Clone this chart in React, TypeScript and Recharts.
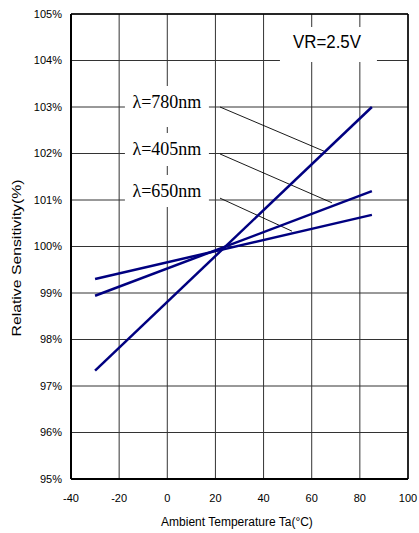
import React from 'react';
import { LineChart, Line, XAxis, YAxis, CartesianGrid, ReferenceLine, ReferenceArea, Label } from 'recharts';

// temperature points of each (straight) curve
const temps = [-30, 85];
const sens780 = [97.33, 103.0];
const sens405 = [98.94, 101.19];
const sens650 = [99.3, 100.68];

const xTicks = [-40, -20, 0, 20, 40, 60, 80, 100];
const yTicks = [95, 96, 97, 98, 99, 100, 101, 102, 103, 104, 105];

// label boxes: [name, x1, x2, y1, y2]
const labelBoxes: [string, number, number, number, number][] = [
    ['λ=780nm', -17.6, 17.3, 102.57, 103.45],
    ['λ=405nm', -17.6, 17.3, 101.73, 102.44],
    ['λ=650nm', -17.6, 17.3, 100.85, 101.54],
];

// leader lines from label to curve
const leaders = [
    [{ x: 21.9, y: 103.0 }, { x: 65.1, y: 102.05 }],
    [{ x: 21.9, y: 101.99 }, { x: 68.4, y: 100.94 }],
    [{ x: 21.9, y: 101.04 }, { x: 51.8, y: 100.33 }],
];

const toSeries = (vals: number[]) => temps.map((t, i) => ({ t, v: vals[i] }));

const sans = '"Liberation Sans", Arial, sans-serif';
const serif = '"Liberation Serif", "Times New Roman", serif';

const YTitle = () => (
    <text x={21} y={258} transform="rotate(-90 21 258)" textAnchor="middle" fontSize={12} fontFamily={sans} fill="#000"
        textLength={157} lengthAdjust="spacingAndGlyphs">
        Relative Sensitivity(%)
    </text>
);

const XTitle = () => (
    <text x={237} y={526} textAnchor="middle" fontSize={12} fontFamily={sans} fill="#000">
        Ambient Temperature Ta(°C)
    </text>
);

const boxLabel = (name: string) => (props: any) => {
    const vb = props.viewBox || {};
    return (
        <text x={vb.x + vb.width / 2} y={vb.y + 22} textAnchor="middle" fontSize={18} fontFamily={serif} fill="#000">
            {name}
        </text>
    );
};

const VrLabel = () => (
    <text x={327} y={48} textAnchor="middle" fontSize={19} fontFamily={sans} fill="#000"
        textLength={68} lengthAdjust="spacingAndGlyphs">
        VR=2.5V
    </text>
);

const App = () => {
    return (
        <div style={{ position: 'absolute', left: 0, top: 0, background: '#fff' }}>
            <LineChart width={419} height={533} margin={{ top: 14, right: 11, bottom: 14, left: 0 }}>
                <CartesianGrid stroke="#333" strokeWidth={1} />
                <XAxis type="number" dataKey="t" domain={[-40, 100]} ticks={xTicks} allowDataOverflow
                    height={40} tickSize={0} tickMargin={15} axisLine={{ stroke: '#000', strokeWidth: 2 }}
                    tick={{ fontSize: 11, fill: '#000', fontFamily: sans }}>
                    <Label content={XTitle} />
                </XAxis>
                <YAxis type="number" domain={[95, 105]} ticks={yTicks} allowDataOverflow width={71}
                    tickSize={0} tickMargin={9} tickFormatter={(v) => `${v}%`}
                    axisLine={{ stroke: '#000', strokeWidth: 2 }}
                    tick={{ fontSize: 11, fill: '#000', fontFamily: sans }}>
                    <Label content={YTitle} />
                </YAxis>
                <ReferenceLine y={105} stroke="#000" strokeWidth={1.5} />
                <ReferenceLine x={100} stroke="#000" strokeWidth={1.5} />
                {labelBoxes.map(([name, x1, x2, y1, y2]) => (
                    <ReferenceArea key={name} x1={x1} x2={x2} y1={y1} y2={y2} fill="#fff" fillOpacity={1} stroke="none"
                        label={boxLabel(name)} />
                ))}
                <ReferenceArea x1={46.8} x2={87.1} y1={103.97} y2={104.72} fill="#fff" fillOpacity={1} stroke="none"
                    label={VrLabel} />
                {leaders.map((seg, i) => (
                    <ReferenceLine key={i} segment={seg} stroke="#000" strokeWidth={0.9} />
                ))}
                <Line data={toSeries(sens780)} dataKey="v" stroke="#000080" strokeWidth={2.5} dot={false} isAnimationActive={false} />
                <Line data={toSeries(sens405)} dataKey="v" stroke="#000080" strokeWidth={2.5} dot={false} isAnimationActive={false} />
                <Line data={toSeries(sens650)} dataKey="v" stroke="#000080" strokeWidth={2.5} dot={false} isAnimationActive={false} />
            </LineChart>
        </div>
    );
};

export default App;
